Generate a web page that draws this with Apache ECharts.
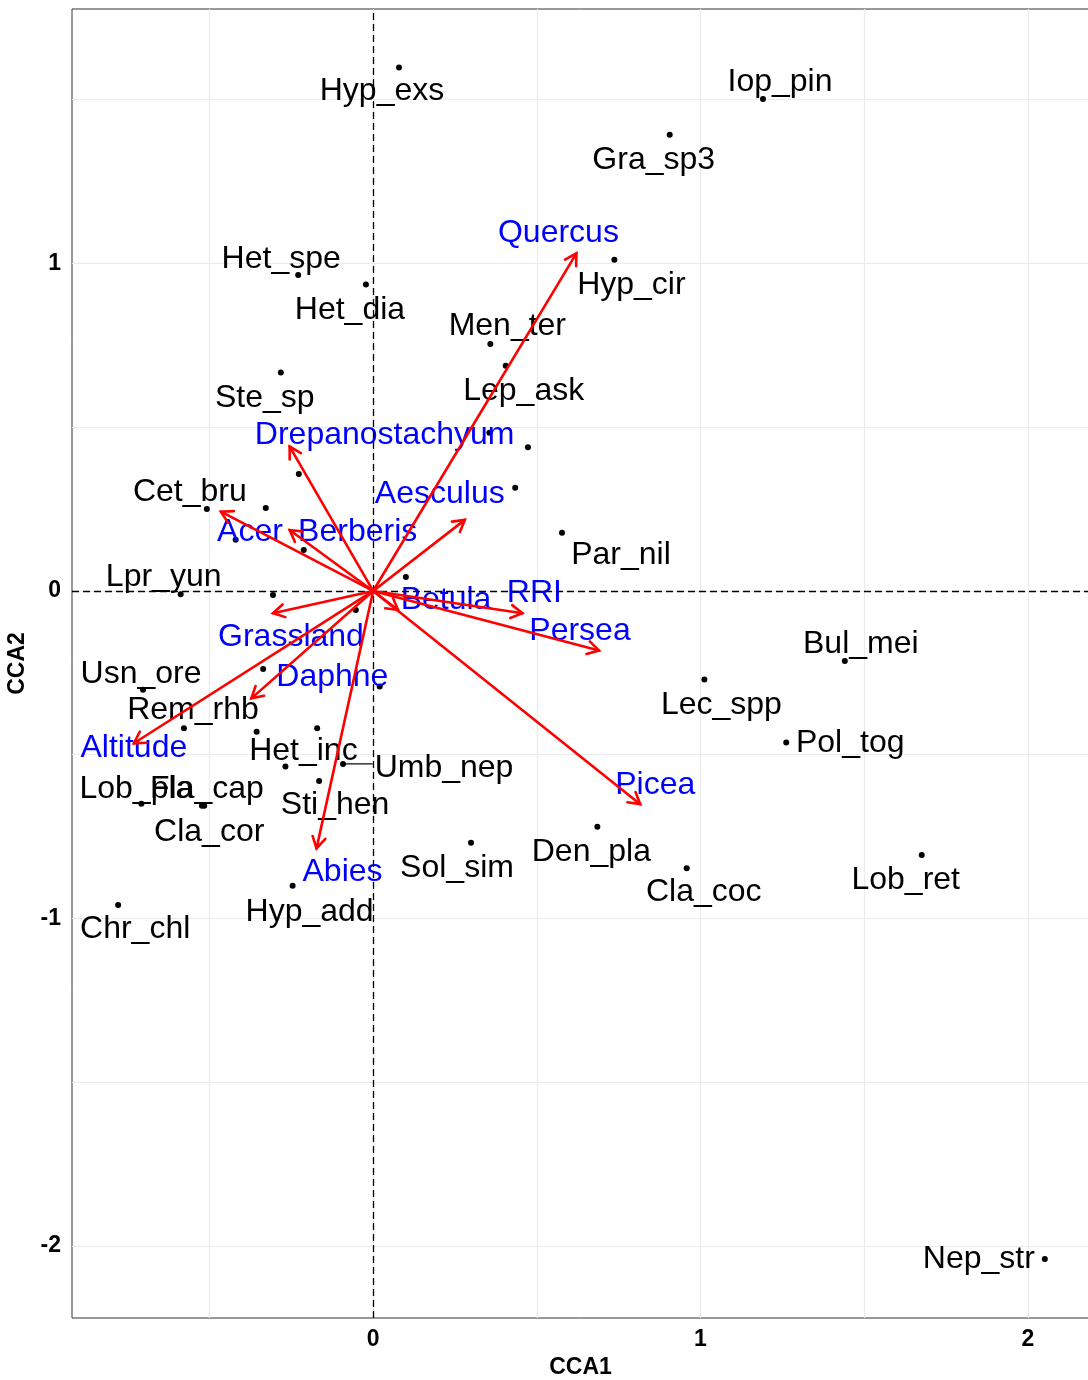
<!DOCTYPE html>
<html>
<head>
<meta charset="utf-8">
<script src="https://cdn.jsdelivr.net/npm/echarts@6/dist/echarts.min.js"></script>
<style>
  html, body { margin: 0; padding: 0; background: #ffffff; }
  #chart { width: 1088px; height: 1380px; }
</style>
</head>
<body>
<div id="chart"></div>
<script>
// CCA biplot: species scores (points) and environmental variables (arrows)

// Species scores on the first two constrained axes ('' = label not shown)
const speciesNames = [
  'Hyp_exs', 'Iop_pin', 'Gra_sp3', 'Hyp_cir', 'Het_spe', 'Het_dia', 'Men_ter', 'Lep_ask',
  'Ste_sp', 'Cet_bru', 'Par_nil', 'Lpr_yun', 'Usn_ore', 'Bul_mei', 'Lec_spp', 'Rem_rhb',
  'Het_inc', 'Umb_nep', 'Pol_tog', 'Sti_hen', 'Lob_pla', 'Fla_cap', 'Cla_cor', 'Den_pla',
  'Sol_sim', 'Lob_ret', 'Cla_coc', 'Hyp_add', 'Chr_chl', 'Nep_str',
  '', '', '', '', '', '', '', '', '', '', '', '', '', ''
];
const speciesCCA1 = [
  0.079, 1.191, 0.906, 0.737, -0.229, -0.022, 0.358, 0.405,
  -0.282, -0.508, 0.577, -0.588, -0.703, 1.441, 1.012, -0.578,
  -0.268, -0.092, 1.262, -0.165, -0.708, -0.523, -0.516, 0.685,
  0.299, 1.676, 0.958, -0.246, -0.779, 2.052,
  0.355, 0.473, -0.227, 0.434, -0.328, -0.420, -0.212, -0.306, 0.100, -0.053, -0.336, 0.020, -0.356, -0.171
];
const speciesCCA2 = [
  1.598, 1.502, 1.393, 1.011, 0.965, 0.936, 0.754, 0.688,
  0.667, 0.250, 0.178, -0.010, -0.302, -0.214, -0.270, -0.419,
  -0.536, -0.528, -0.463, -0.580, -0.650, -0.656, -0.656, -0.720,
  -0.769, -0.806, -0.847, -0.900, -0.959, -2.040,
  0.483, 0.439, 0.357, 0.315, 0.253, 0.156, 0.125, -0.012, 0.043, -0.058, -0.238, -0.292, -0.430, -0.419
];

// Environmental variable biplot scores (arrow tips)
const envNames = [
  'Quercus', 'Drepanostachyum', 'Aesculus', 'Acer', 'Berberis', 'Betula', 'RRI',
  'Persea', 'Picea', 'Grassland', 'Daphne', 'Altitude', 'Abies'
];
const envCCA1 = [0.621, -0.255, 0.280, -0.465, -0.255, 0.076, 0.456, 0.690, 0.816, -0.306, -0.372, -0.731, -0.173];
const envCCA2 = [1.031, 0.441, 0.217, 0.242, 0.186, -0.058, -0.068, -0.182, -0.651, -0.068, -0.328, -0.465, -0.786];

// Axis ticks and reference grid
const xTickValues = [0, 1, 2];
const yTickValues = [-2, -1, 0, 1];
const xGridValues = [-0.5, 0, 0.5, 1, 1.5, 2];
const yGridValues = [-2, -1.5, -1, -0.5, 0, 0.5, 1, 1.5];

// Label placement (pixel nudges away from each mark, repel-style)
const speciesLabelNudge = [
  [-17, 22], [17, -19], [-16, 23], [17, 23], [-17, -18], [-16, 24], [17, -20], [18, 24],
  [-16, 24], [-17, -19], [59, 21], [-17, -19], [-2, -18], [16, -19], [17, 24], [9, -20],
  [18, -17], [101, 2], [64, -1], [16, 22], [-5, -17], [5, -19], [5, 24], [-6, 23],
  [-14, 23], [-16, 23], [17, 22], [17, 24], [17, 22], [-66, -2]
];
const envLabelNudge = [
  [-18, -22], [95, -13], [-25, -28], [29, 18], [68, 0], [48, -12], [12, -22],
  [-19, -21], [15, -21], [18, 22], [81, -23], [0, 3], [26, 22]
];
const LABEL_BASE_DY = 2;
// labels pushed far to the right of their point get a connector segment
const CONNECTOR_MIN = 80;

const FONT = '"Liberation Sans", Arial, Helvetica, sans-serif';
const LABEL_SIZE = 32;

const measureCtx = document.createElement('canvas').getContext('2d');
measureCtx.font = LABEL_SIZE + 'px ' + FONT;

const chart = echarts.init(document.getElementById('chart'), null, { renderer: 'canvas' });

const speciesPoints = speciesCCA1.map((x, i) => [x, speciesCCA2[i]]);
const labelled = speciesNames.map((n, i) => i).filter(i => speciesNames[i]);
const speciesLabels = labelled.map(i => ({
  name: speciesNames[i],
  value: [speciesCCA1[i], speciesCCA2[i]],
  label: { offset: [speciesLabelNudge[i][0], speciesLabelNudge[i][1] + LABEL_BASE_DY] }
}));
const connectorIdx = labelled.filter(i => speciesLabelNudge[i][0] > CONNECTOR_MIN);
const connectorData = connectorIdx.map(i => [speciesCCA1[i], speciesCCA2[i], i]);

const envTips = envCCA1.map((x, i) => [x, envCCA2[i]]);
const envLabels = envNames.map((n, i) => ({
  name: n,
  value: [envCCA1[i], envCCA2[i]],
  label: { offset: [envLabelNudge[i][0], envLabelNudge[i][1] + LABEL_BASE_DY] }
}));

const option = {
  animation: false,
  backgroundColor: '#ffffff',
  grid: {
    left: 72, top: 9, right: -1, bottom: 62,
    outerBoundsMode: 'none', containLabel: false,
    show: true, borderColor: '#333333', borderWidth: 1, backgroundColor: 'transparent'
  },
  xAxis: {
    type: 'value', min: -0.92, max: 2.187,
    axisLine: { show: false },
    axisTick: { show: true, customValues: xTickValues, length: 5, lineStyle: { color: '#333333', width: 1 } },
    axisLabel: {
      customValues: xTickValues, margin: 10, color: '#000000',
      fontFamily: FONT, fontWeight: 'bold', fontSize: 23
    },
    splitLine: { show: false },
    name: 'CCA1', nameLocation: 'middle', nameGap: 37,
    nameTextStyle: { fontFamily: FONT, fontWeight: 'bold', fontSize: 23, color: '#000000' }
  },
  yAxis: {
    type: 'value', min: -2.22, max: 1.777,
    axisLine: { show: false },
    axisTick: { show: true, customValues: yTickValues, length: 5, lineStyle: { color: '#333333', width: 1 } },
    axisLabel: {
      customValues: yTickValues, margin: 11, color: '#000000', padding: [8, 0, 0, 0],
      fontFamily: FONT, fontWeight: 'bold', fontSize: 23
    },
    splitLine: { show: false },
    name: 'CCA2', nameLocation: 'middle', nameGap: 40,
    nameTextStyle: { fontFamily: FONT, fontWeight: 'bold', fontSize: 23, color: '#000000' }
  },
  series: [
    {
      // background grid lines
      type: 'scatter', z: 1, data: [], symbolSize: 0, silent: true,
      markLine: {
        z: 1, silent: true, symbol: ['none', 'none'], label: { show: false },
        lineStyle: { color: '#ebebeb', width: 1.2, type: 'solid' },
        data: xGridValues.map(v => ({ xAxis: v })).concat(yGridValues.map(v => ({ yAxis: v })))
      }
    },
    {
      // species points
      type: 'scatter', z: 3, data: speciesPoints, symbol: 'circle', symbolSize: 6,
      itemStyle: { color: '#000000', opacity: 1 }, silent: true
    },
    {
      // connector from a point to its displaced label
      type: 'custom', z: 3, data: connectorData, silent: true,
      encode: { x: 0, y: 1 },
      renderItem: function (params, api) {
        const i = api.value(2);
        const p = api.coord([api.value(0), api.value(1)]);
        const off = speciesLabelNudge[i];
        const w = measureCtx.measureText(speciesNames[i]).width;
        const xEnd = p[0] + off[0] - w / 2 - 2;
        return {
          type: 'line',
          shape: { x1: p[0] + 2, y1: p[1], x2: xEnd, y2: p[1] },
          style: { stroke: '#000000', lineWidth: 1.2 }
        };
      }
    },
    {
      // species names
      type: 'scatter', z: 4, data: speciesLabels, symbolSize: 0, silent: true,
      itemStyle: { color: '#000000', opacity: 1 },
      label: {
        show: true, position: 'inside', formatter: '{b}', color: '#000000',
        fontFamily: FONT, fontSize: LABEL_SIZE
      }
    },
    {
      // environmental variable names
      type: 'scatter', z: 5, data: envLabels, symbolSize: 0, silent: true,
      itemStyle: { color: '#0000ff', opacity: 1 },
      label: {
        show: true, position: 'inside', formatter: '{b}', color: '#0000ff',
        fontFamily: FONT, fontSize: LABEL_SIZE
      },
      markLine: {
        z: 6, silent: true, symbol: ['none', 'none'], label: { show: false },
        lineStyle: { color: '#000000', width: 1.3, type: [7, 4] },
        data: [{ xAxis: 0 }, { yAxis: 0 }]
      }
    },
    {
      // environmental arrows from the origin
      type: 'custom', z: 8, data: envTips, silent: true,
      encode: { x: 0, y: 1 },
      renderItem: function (params, api) {
        const o = api.coord([0, 0]);
        const t = api.coord([api.value(0), api.value(1)]);
        const ang = Math.atan2(t[1] - o[1], t[0] - o[0]);
        const L = 13, a = Math.PI / 6;
        const h1 = [t[0] - L * Math.cos(ang - a), t[1] - L * Math.sin(ang - a)];
        const h2 = [t[0] - L * Math.cos(ang + a), t[1] - L * Math.sin(ang + a)];
        const st = { stroke: '#ff0000', lineWidth: 2.6, fill: null, lineCap: 'round', lineJoin: 'miter' };
        return {
          type: 'group',
          children: [
            { type: 'line', shape: { x1: o[0], y1: o[1], x2: t[0], y2: t[1] }, style: st },
            { type: 'polyline', shape: { points: [h1, t, h2] }, style: st }
          ]
        };
      }
    }
  ]
};

chart.setOption(option);
</script>
</body>
</html>
